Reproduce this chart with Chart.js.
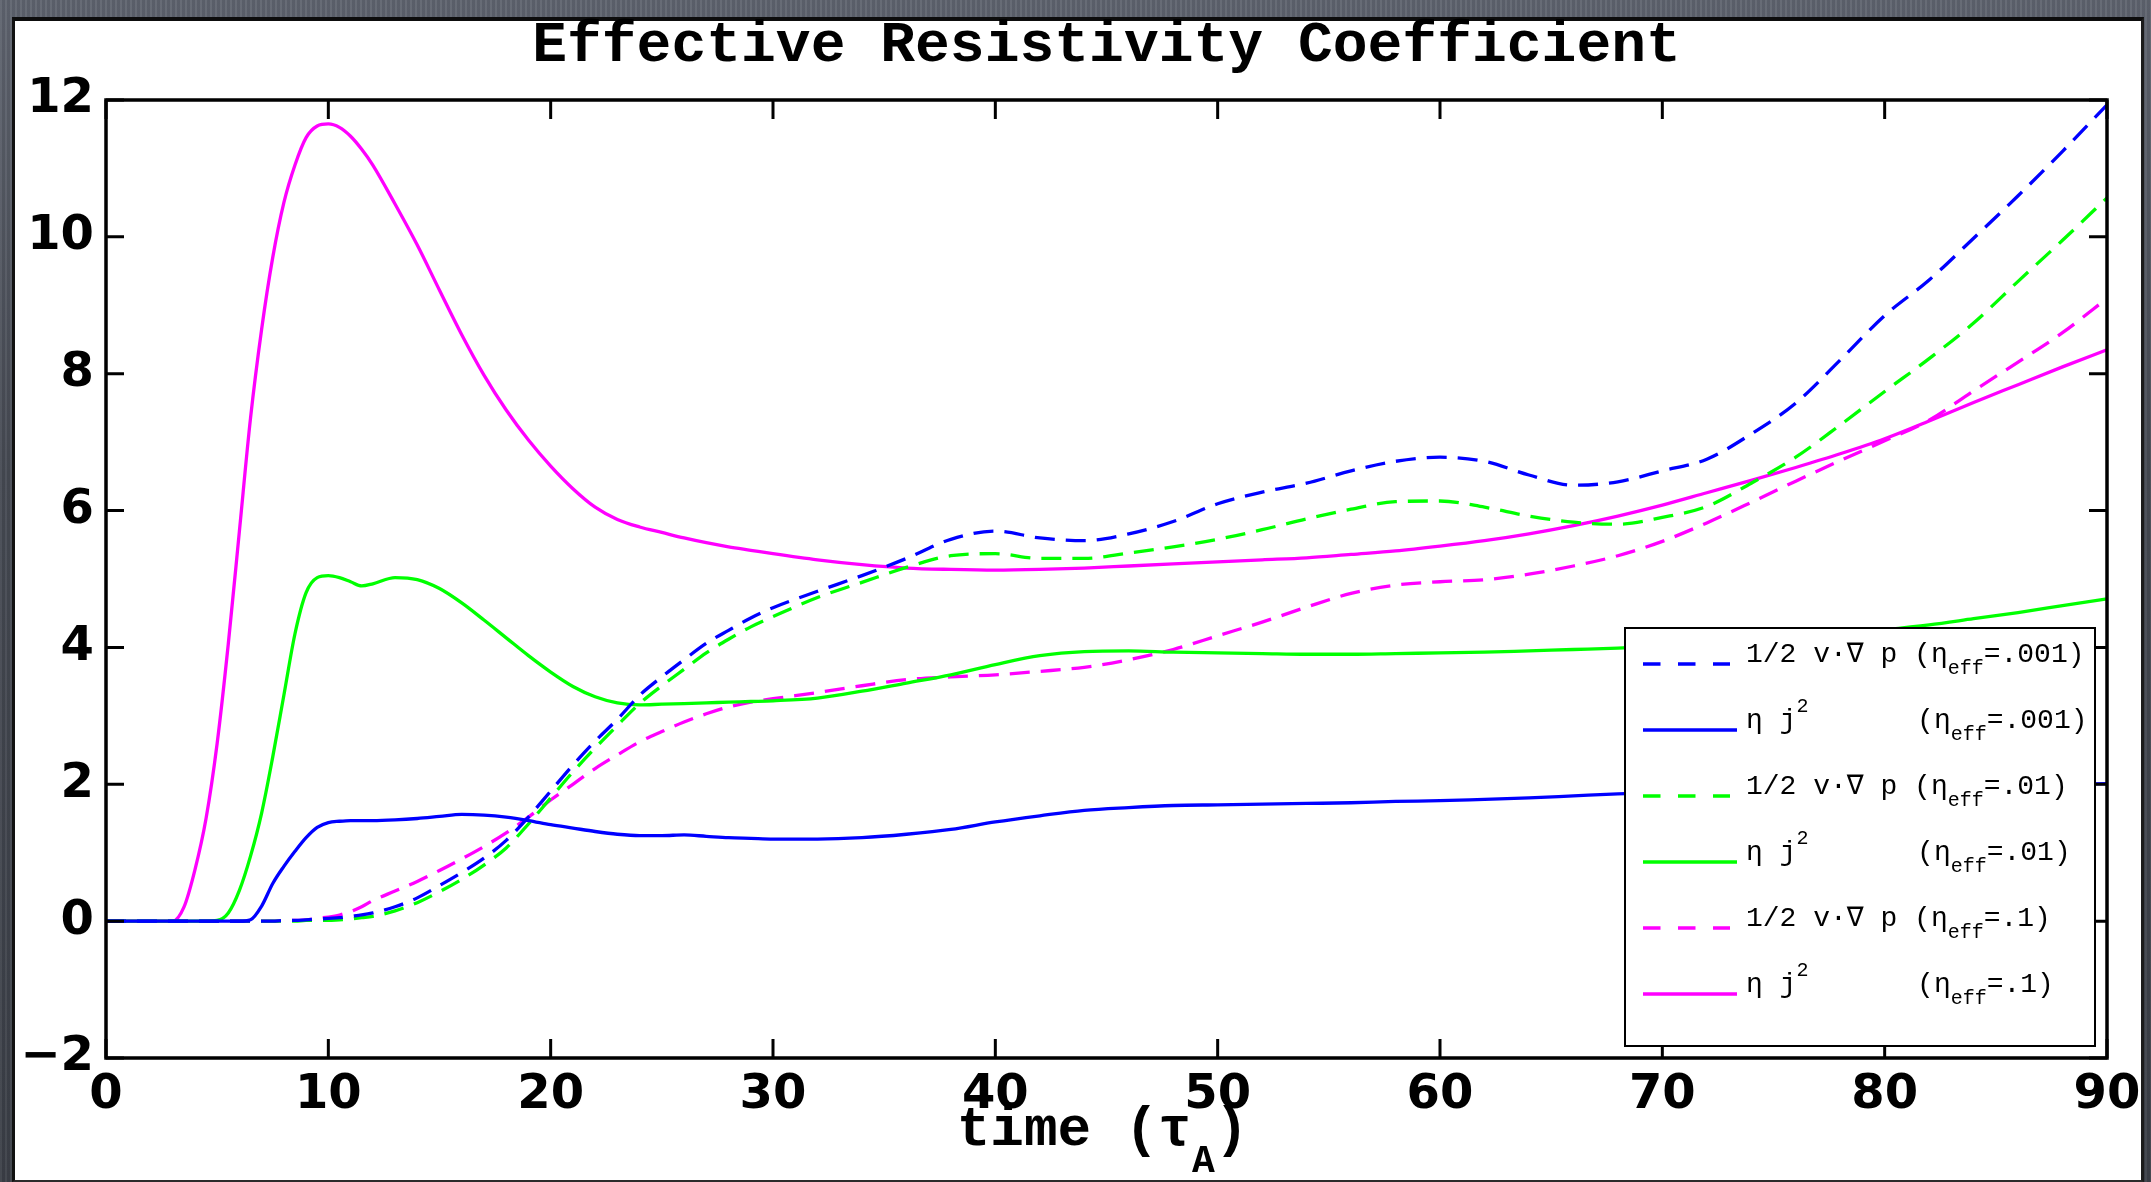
<!DOCTYPE html>
<html>
<head>
<meta charset="utf-8">
<title>Effective Resistivity Coefficient</title>
<script src="https://cdn.jsdelivr.net/npm/chart.js@4.4.1/dist/chart.umd.min.js"></script>
<style>
    html, body {
        margin: 0;
        padding: 0;
        width: 2151px;
        height: 1182px;
        overflow: hidden;
    }
    body {
        position: relative;
        background-color: #474b54;
        background-image:
            repeating-linear-gradient(90deg, rgba(255,255,255,0.05) 0 2px, rgba(0,0,0,0.06) 2px 5px),
            linear-gradient(180deg, #5f646f 0, #464a53 40%, #3b3f47 100%);
    }
    .sheet {
        position: absolute;
        left: 12px;
        top: 17px;
        right: 7px;
        bottom: 0;
        background: #fff;
        border-top: 4px solid #0d0d0d;
        border-left: 3px solid #111;
        border-right: 3px solid #1c1c1c;
        border-bottom: 2px solid #2b2b2b;
    }
    #resistChart {
        position: absolute;
        left: 0;
        top: 0;
    }
</style>
</head>
<body>
<div class="sheet"></div>
<canvas id="resistChart" width="2151" height="1182"></canvas>

<script>
// time samples (tau_A) shared by every curve
const timeSteps = [0, 2, 3, 3.5, 4, 4.5, 5, 5.5, 6, 6.5, 7, 7.5, 8, 8.5, 9, 9.5, 10, 10.5, 11, 11.5, 12,
    13, 14, 15, 16, 17, 18, 19, 20, 21, 22, 23, 24, 25, 26, 27, 28, 29, 30,
    32, 34, 36, 38, 40, 42, 44, 46, 48, 50, 52, 54, 56, 58, 60, 62, 64, 66, 68, 70,
    72, 74, 76, 78, 80, 82, 84, 86, 88, 90];

// 1/2 v.grad p, eta_eff = .001
const pressure001 = [0, 0, 0, 0, 0, 0, 0, 0, 0, 0, 0, 0, 0.01, 0.01, 0.02, 0.03, 0.04, 0.05, 0.07, 0.09, 0.12,
    0.21, 0.34, 0.52, 0.71, 0.92, 1.18, 1.52, 1.9, 2.28, 2.63, 2.95, 3.3, 3.57, 3.82, 4.06, 4.25, 4.43, 4.58,
    4.82, 5.05, 5.3, 5.58, 5.7, 5.6, 5.56, 5.66, 5.84, 6.1, 6.27, 6.4, 6.58, 6.72, 6.78, 6.72, 6.52, 6.37, 6.42, 6.58,
    6.75, 7.12, 7.57, 8.2, 8.85, 9.37, 9.98, 10.6, 11.25, 11.93];

// eta j^2, eta_eff = .001
const ohmic001 = [0, 0, 0, 0, 0, 0, 0, 0, 0, 0.02, 0.22, 0.55, 0.8, 1.02, 1.22, 1.37, 1.44, 1.46, 1.47, 1.47, 1.47,
    1.48, 1.5, 1.53, 1.56, 1.55, 1.52, 1.47, 1.41, 1.36, 1.31, 1.27, 1.25, 1.25, 1.26, 1.24, 1.22, 1.21, 1.2,
    1.2, 1.22, 1.27, 1.34, 1.45, 1.54, 1.62, 1.66, 1.69, 1.7, 1.71, 1.72, 1.73, 1.75, 1.76, 1.78, 1.8, 1.83, 1.86, 1.88,
    1.9, 1.91, 1.93, 1.94, 1.95, 1.96, 1.97, 1.98, 2.0, 2.01];

// 1/2 v.grad p, eta_eff = .01
const pressure01 = [0, 0, 0, 0, 0, 0, 0, 0, 0, 0, 0, 0, 0, 0, 0.01, 0.01, 0.01, 0.02, 0.03, 0.05, 0.07,
    0.15, 0.27, 0.43, 0.61, 0.82, 1.07, 1.42, 1.8, 2.18, 2.53, 2.86, 3.18, 3.44, 3.68, 3.92, 4.12, 4.3, 4.45,
    4.73, 4.95, 5.17, 5.34, 5.37, 5.3, 5.3, 5.38, 5.47, 5.58, 5.72, 5.88, 6.02, 6.13, 6.14, 6.05, 5.92, 5.83, 5.8, 5.9,
    6.06, 6.4, 6.78, 7.25, 7.74, 8.22, 8.74, 9.35, 9.95, 10.57];

// eta j^2, eta_eff = .01
const ohmic01 = [0, 0, 0, 0, 0, 0, 0.01, 0.12, 0.45, 0.95, 1.58, 2.4, 3.3, 4.2, 4.8, 5.02, 5.05, 5.02, 4.96, 4.9, 4.93,
    5.02, 4.99, 4.86, 4.65, 4.4, 4.14, 3.88, 3.64, 3.43, 3.28, 3.19, 3.16, 3.17, 3.18, 3.19, 3.2, 3.21, 3.22,
    3.26, 3.36, 3.48, 3.6, 3.75, 3.88, 3.94, 3.95, 3.93, 3.92, 3.91, 3.9, 3.9, 3.91, 3.92, 3.93, 3.95, 3.97, 3.99, 4.02,
    4.05, 4.09, 4.14, 4.2, 4.26, 4.33, 4.42, 4.51, 4.61, 4.71];

// 1/2 v.grad p, eta_eff = .1
const pressure1 = [0, 0, 0, 0, 0, 0, 0, 0, 0, 0, 0, 0, 0.01, 0.01, 0.02, 0.04, 0.06, 0.09, 0.14, 0.21, 0.3,
    0.44, 0.58, 0.74, 0.91, 1.09, 1.29, 1.52, 1.77, 2.0, 2.23, 2.43, 2.62, 2.77, 2.91, 3.03, 3.13, 3.2, 3.25,
    3.34, 3.44, 3.53, 3.57, 3.6, 3.65, 3.71, 3.82, 3.97, 4.17, 4.37, 4.59, 4.79, 4.91, 4.96, 4.99, 5.07, 5.19, 5.34, 5.55,
    5.82, 6.12, 6.43, 6.73, 7.02, 7.32, 7.75, 8.17, 8.6, 9.1];

// eta j^2, eta_eff = .1
const ohmic1 = [0, 0, 0, 0.2, 0.75, 1.5, 2.6, 4.05, 5.7, 7.35, 8.65, 9.7, 10.5, 11.05, 11.45, 11.62, 11.65, 11.6, 11.47, 11.28, 11.05,
    10.48, 9.88, 9.22, 8.57, 7.98, 7.47, 7.03, 6.65, 6.32, 6.05, 5.87, 5.76, 5.68, 5.6, 5.53, 5.47, 5.42, 5.37,
    5.28, 5.21, 5.16, 5.14, 5.13, 5.14, 5.16, 5.19, 5.22, 5.25, 5.28, 5.31, 5.36, 5.41, 5.48, 5.56, 5.66, 5.78, 5.92, 6.08,
    6.26, 6.44, 6.63, 6.83, 7.05, 7.31, 7.58, 7.84, 8.1, 8.35];

const xTicks = [0, 10, 20, 30, 40, 50, 60, 70, 80, 90];
const yTicks = [-2, 0, 2, 4, 6, 8, 10, 12];

const BLUE = '#0000ff';
const GREEN = '#00ff00';
const MAGENTA = '#ff00ff';
const DASH = [20, 11];

const MONO = '"Liberation Mono", "Courier New", monospace';
const TICK_FONT = '"DejaVu Sans", "Liberation Sans", sans-serif';

function toPoints(values) {
    return timeSteps.map((t, i) => ({ x: t, y: values[i] }));
}

function series(label, values, color, dashed, kind, eta) {
    return {
        label: label,
        data: toPoints(values),
        borderColor: color,
        backgroundColor: color,
        borderWidth: 3.3,
        borderDash: dashed ? DASH : [],
        pointRadius: 0,
        fill: false,
        cubicInterpolationMode: 'monotone',
        kind: kind,
        eta: eta
    };
}

const datasets = [
    series('1/2 v·∇ p (η_eff=.001)', pressure001, BLUE, true, 'pressure', '.001'),
    series('η j² (η_eff=.001)', ohmic001, BLUE, false, 'ohmic', '.001'),
    series('1/2 v·∇ p (η_eff=.01)', pressure01, GREEN, true, 'pressure', '.01'),
    series('η j² (η_eff=.01)', ohmic01, GREEN, false, 'ohmic', '.01'),
    series('1/2 v·∇ p (η_eff=.1)', pressure1, MAGENTA, true, 'pressure', '.1'),
    series('η j² (η_eff=.1)', ohmic1, MAGENTA, false, 'ohmic', '.1')
];

// draws a run of text pieces side by side, pieces may be shifted up or down
function drawPieces(ctx, pieces, x, y) {
    pieces.forEach(p => {
        ctx.font = p.font;
        ctx.fillText(p.text, x, y + (p.dy || 0));
        x += ctx.measureText(p.text).width;
    });
    return x;
}

function piecesWidth(ctx, pieces) {
    let w = 0;
    pieces.forEach(p => {
        ctx.font = p.font;
        w += ctx.measureText(p.text).width;
    });
    return w;
}

// axes box with inward ticks on all four sides, titles and the legend
const figureDecor = {
    id: 'figureDecor',
    afterDatasetsDraw(chart) {
        const ctx = chart.ctx;
        const area = chart.chartArea;
        const xs = chart.scales.x;
        const ys = chart.scales.y;

        ctx.save();
        ctx.strokeStyle = '#000';
        ctx.lineWidth = 3;
        ctx.beginPath();
        xs.ticks.forEach(t => {
            const px = xs.getPixelForValue(t.value);
            ctx.moveTo(px, area.bottom);
            ctx.lineTo(px, area.bottom - 19);
            ctx.moveTo(px, area.top);
            ctx.lineTo(px, area.top + 19);
        });
        ys.ticks.forEach(t => {
            const py = ys.getPixelForValue(t.value);
            ctx.moveTo(area.left, py);
            ctx.lineTo(area.left + 18, py);
            ctx.moveTo(area.right, py);
            ctx.lineTo(area.right - 18, py);
        });
        ctx.stroke();

        ctx.lineWidth = 3.5;
        ctx.strokeRect(area.left, area.top, area.right - area.left, area.bottom - area.top);

        // legend
        const boxW = 470;
        const boxH = 418;
        const boxRight = area.right - 12;
        const boxBottom = area.bottom - 12;
        const boxLeft = boxRight - boxW;
        const boxTop = boxBottom - boxH;
        ctx.fillStyle = '#fff';
        ctx.fillRect(boxLeft, boxTop, boxW, boxH);
        ctx.lineWidth = 2;
        ctx.strokeStyle = '#000';
        ctx.strokeRect(boxLeft, boxTop, boxW, boxH);

        const mainFont = '28px ' + MONO;
        const smallFont = '20px ' + MONO;
        const textX = boxLeft + 121;
        ctx.font = mainFont;
        const etaColumn = textX + ctx.measureText('1/2 v·∇ p ').width + 3;

        chart.data.datasets.forEach((ds, i) => {
            const rowY = boxTop + 36 + i * 66;
            ctx.beginPath();
            ctx.strokeStyle = ds.borderColor;
            ctx.lineWidth = 3.3;
            ctx.setLineDash(ds.borderDash.length ? [17.5, 17.5] : []);
            ctx.moveTo(boxLeft + 18, rowY);
            ctx.lineTo(boxLeft + (ds.borderDash.length ? 105 : 112), rowY);
            ctx.stroke();
            ctx.setLineDash([]);

            ctx.fillStyle = '#000';
            ctx.textAlign = 'left';
            ctx.textBaseline = 'alphabetic';
            const baseY = rowY - 2;
            const etaPieces = [
                { text: '(η', font: mainFont },
                { text: 'eff', font: smallFont, dy: 12 },
                { text: '=' + ds.eta + ')', font: mainFont }
            ];
            if (ds.kind === 'pressure') {
                drawPieces(ctx, [{ text: '1/2 v·∇ p ', font: mainFont }].concat(etaPieces), textX, baseY);
            } else {
                drawPieces(ctx, [
                    { text: 'η j', font: mainFont },
                    { text: '2', font: smallFont, dy: -16 }
                ], textX, baseY);
                drawPieces(ctx, etaPieces, etaColumn, baseY);
            }
        });

        // chart title
        const midX = (area.left + area.right) / 2;
        ctx.fillStyle = '#000';
        ctx.textAlign = 'center';
        ctx.textBaseline = 'alphabetic';
        ctx.font = 'bold 58px ' + MONO;
        ctx.fillText('Effective Resistivity Coefficient', midX, 61);

        // x axis title with subscript
        ctx.textAlign = 'left';
        const xTitle = [
            { text: 'time (τ', font: 'bold 56px ' + MONO },
            { text: 'A', font: 'bold 38px ' + MONO, dy: 27 },
            { text: ')', font: 'bold 56px ' + MONO }
        ];
        const w = piecesWidth(ctx, xTitle);
        drawPieces(ctx, xTitle, midX - w / 2 - 4, 1145);

        ctx.restore();
    }
};

const ctx = document.getElementById('resistChart').getContext('2d');

new Chart(ctx, {
    type: 'line',
    data: { datasets: datasets },
    options: {
        responsive: false,
        animation: false,
        layout: {
            padding: { left: 0, right: 44, top: 100, bottom: 0 }
        },
        plugins: {
            legend: { display: false },
            title: { display: false },
            tooltip: { enabled: false }
        },
        scales: {
            x: {
                type: 'linear',
                min: 0,
                max: 90,
                afterBuildTicks: scale => {
                    scale.ticks = xTicks.map(v => ({ value: v }));
                },
                afterFit: scale => {
                    scale.height = 124;
                },
                grid: { display: false, drawTicks: false },
                border: { display: false },
                ticks: {
                    autoSkip: false,
                    maxRotation: 0,
                    padding: 9,
                    color: '#000',
                    font: { family: TICK_FONT, size: 48, weight: 'bold' }
                }
            },
            y: {
                min: -2,
                max: 12,
                afterBuildTicks: scale => {
                    scale.ticks = yTicks.map(v => ({ value: v }));
                },
                afterFit: scale => {
                    scale.width = 106;
                },
                grid: { display: false, drawTicks: false },
                border: { display: false },
                ticks: {
                    padding: 12,
                    color: '#000',
                    font: { family: TICK_FONT, size: 48, weight: 'bold' },
                    callback: v => (v < 0 ? '\u2212' + Math.abs(v) : String(v))
                }
            }
        }
    },
    plugins: [figureDecor]
});
</script>
</body>
</html>
